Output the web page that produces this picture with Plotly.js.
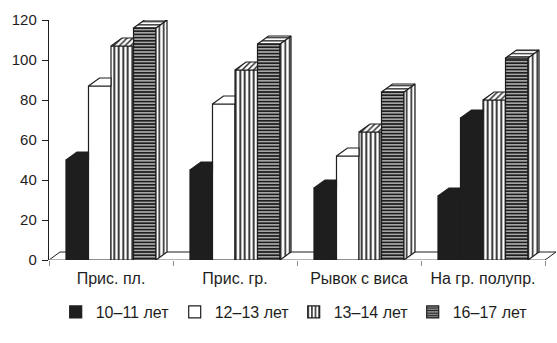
<!DOCTYPE html>
<html>
<head>
<meta charset="utf-8">
<script src="https://cdn.plot.ly/plotly-3.0.1.min.js"></script>
<style>
  html, body { margin: 0; padding: 0; background: #fff; }
  #chart { width: 557px; height: 343px; }
</style>
</head>
<body>
<div id="chart"></div>
<script>
// Exercise categories and age groups
const categories = ['Прис. пл.', 'Прис. гр.', 'Рывок с виса', 'На гр. полупр.'];
const seriesNames = ['10–11 лет', '12–13 лет', '13–14 лет', '16–17 лет'];

// Results per age group, one value per exercise
const age10_11 = [50, 45, 36, 32];
const age12_13 = [87, 78, 52, 71];
const age13_14 = [107, 95, 64, 80];
const age16_17 = [116, 108, 84, 101];

const yTicks = [0, 20, 40, 60, 80, 100, 120];

const series = [age10_11, age12_13, age13_14, age16_17];

// Layout constants for the pseudo-3D columns
const INK = '#1e1e1e';
const FONT = 'Liberation Sans, Arial, sans-serif';
const BARGAP = 0.274;
const BW = (1 - BARGAP) / series.length;   // width of one column in x units
const DEPTH_X = 11 / 124;                   // depth offset in x units
const DEPTH_Y = 4;                          // depth offset in value units

// Fill colour of each front face (the last column of the 12–13 group is dark)
const frontColors = [
  categories.map(() => INK),
  categories.map((c, i) => i === 3 ? INK : '#ffffff'),
  categories.map(() => '#ffffff'),
  categories.map(() => '#ffffff')
];

const frontMarkers = [
  { color: INK },
  { color: frontColors[1] },
  { color: '#ffffff', pattern: { shape: '|', size: 4.5, solidity: 0.4, fgcolor: INK, fgopacity: 1, fillmode: 'overlay' } },
  { color: '#ffffff', pattern: { shape: '-', size: 3.2, solidity: 0.7, fgcolor: INK, fgopacity: 1, fillmode: 'overlay' } }
];

// Clip a polygon against a half-plane given by a signed function (keep f >= 0)
function clipHalf(poly, f) {
  const out = [];
  for (let i = 0; i < poly.length; i++) {
    const a = poly[i], b = poly[(i + 1) % poly.length];
    const fa = f(a), fb = f(b);
    if (fa >= 0) out.push(a);
    if ((fa >= 0) !== (fb >= 0)) {
      const t = fa / (fa - fb);
      out.push([a[0] + t * (b[0] - a[0]), a[1] + t * (b[1] - a[1])]);
    }
  }
  return out;
}

function area(poly) {
  let s = 0;
  for (let i = 0; i < poly.length; i++) {
    const a = poly[i], b = poly[(i + 1) % poly.length];
    s += a[0] * b[1] - b[0] * a[1];
  }
  return Math.abs(s) / 2;
}

// Remove the part of a face hidden behind the next column's front face
function visibleParts(poly, x1, nextVal) {
  if (nextVal === null) return [poly];
  const left = clipHalf(poly, p => x1 - p[0]);
  const rightAbove = clipHalf(clipHalf(poly, p => p[0] - x1), p => p[1] - nextVal);
  return [left, rightAbove].filter(p => p.length >= 3 && area(p) > 1e-6);
}

function toXY(polys) {
  const x = [], y = [];
  polys.forEach((p, k) => {
    if (k > 0) { x.push(null); y.push(null); }
    p.forEach(pt => { x.push(pt[0]); y.push(pt[1]); });
    x.push(p[0][0]); y.push(p[0][1]);
  });
  return { x, y };
}

function faceStyle(s, g, face) {
  const base = frontColors[s][g];
  if (s < 2) return { fillcolor: base };
  if (face === 'top') {
    return s === 2
      ? { fillcolor: '#ffffff', fillpattern: { shape: '/', size: 4, solidity: 0.35, fgcolor: INK, bgcolor: '#ffffff', fillmode: 'replace' } }
      : { fillcolor: '#ffffff', fillpattern: { shape: '-', size: 3.2, solidity: 0.4, fgcolor: INK, bgcolor: '#ffffff', fillmode: 'replace' } };
  }
  return { fillcolor: '#ffffff', fillpattern: { shape: '|', size: 4.5, solidity: 0.35, fgcolor: INK, bgcolor: '#ffffff', fillmode: 'replace' } };
}

const xIdx = categories.map((c, i) => i);

// Front faces as grouped bars
const traces = series.map((vals, s) => ({
  type: 'bar', name: seriesNames[s], x: xIdx, y: vals,
  marker: Object.assign({ line: { color: INK, width: 1.2 } }, frontMarkers[s]),
  hoverinfo: 'y'
}));

// Top and side faces, drawn series by series so later columns overlap earlier ones
series.forEach((vals, s) => {
  vals.forEach((v, g) => {
    const x0 = g - (1 - BARGAP) / 2 + s * BW;
    const x1 = x0 + BW;
    const nextVal = s < series.length - 1 ? series[s + 1][g] : null;
    const top = [[x0, v], [x1, v], [x1 + DEPTH_X, v + DEPTH_Y], [x0 + DEPTH_X, v + DEPTH_Y]];
    const side = [[x1, 0], [x1, v], [x1 + DEPTH_X, v + DEPTH_Y], [x1 + DEPTH_X, DEPTH_Y]];
    [['side', side], ['top', top]].forEach(([face, poly]) => {
      const parts = visibleParts(poly, x1, nextVal);
      if (!parts.length) return;
      const xy = toXY(parts);
      traces.push(Object.assign({
        type: 'scatter', mode: 'lines', x: xy.x, y: xy.y, fill: 'toself',
        line: { color: INK, width: 1.2 }, showlegend: false, hoverinfo: 'skip'
      }, faceStyle(s, g, face)));
    });
  });
});

const xMin = -0.5, xMax = categories.length - 0.5;

const layout = {
  width: 557, height: 343,
  margin: { l: 49, r: 0, t: 20, b: 83 },
  paper_bgcolor: '#ffffff', plot_bgcolor: 'rgba(0,0,0,0)',
  font: { family: FONT, color: INK, size: 16 },
  barmode: 'group', bargap: BARGAP, bargroupgap: 0,
  showlegend: true,
  legend: {
    orientation: 'h', xref: 'container', yref: 'container',
    x: 0.1, xanchor: 'left', y: 0.140, yanchor: 'top',
    entrywidth: 74, entrywidthmode: 'pixels',
    font: { family: FONT, size: 16, color: INK }, traceorder: 'normal'
  },
  xaxis: {
    type: 'linear', range: [xMin, xMax + 12 / 124], fixedrange: true,
    tickmode: 'array', tickvals: xIdx, ticktext: categories,
    ticks: '', showline: false, showgrid: false, zeroline: false,
    ticklabelstandoff: 7,
    tickfont: { family: FONT, size: 16, color: INK },
    minor: { tick0: 0.5, dtick: 1, ticks: 'outside', ticklen: 5, tickcolor: '#8c8c8c', tickwidth: 1, showgrid: false }
  },
  yaxis: {
    range: [0, 120], fixedrange: true,
    tickmode: 'array', tickvals: yTicks,
    ticks: 'outside', ticklen: 6, tickcolor: INK, tickwidth: 1,
    showline: true, linecolor: INK, linewidth: 1.2,
    showgrid: false, zeroline: false,
    tickfont: { family: FONT, size: 15, color: INK },
    ticklabelstandoff: 2
  },
  shapes: [
    // floor outline (back edge and the two slanted sides)
    {
      type: 'path', xref: 'x', yref: 'y', layer: 'below',
      path: `M${xMin},0 L${xMin + DEPTH_X},${DEPTH_Y} L${xMax + DEPTH_X},${DEPTH_Y} L${xMax},0`,
      line: { color: INK, width: 1 }, fillcolor: 'rgba(0,0,0,0)'
    },
    // floor front edge
    {
      type: 'line', xref: 'x', yref: 'y', layer: 'below',
      x0: xMin, x1: xMax, y0: 0, y1: 0,
      line: { color: '#9a9a9a', width: 1.5 }
    }
  ]
};

Plotly.newPlot('chart', traces, layout, { staticPlot: true, displayModeBar: false });
</script>
</body>
</html>
